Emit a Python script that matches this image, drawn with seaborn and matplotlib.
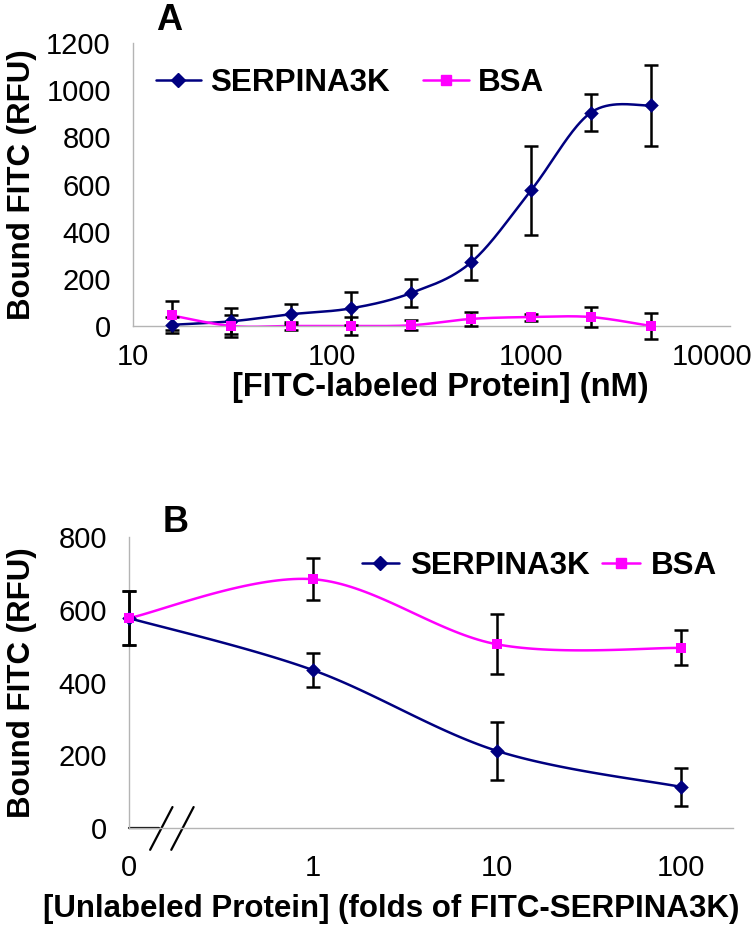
import numpy as np
import matplotlib
matplotlib.use("Agg")
import matplotlib.pyplot as plt
from matplotlib.lines import Line2D
import matplotlib.transforms as mtransforms
import seaborn as sns

# panel A: binding of FITC-labeled protein
conc_nM = [15.625, 31.25, 62.5, 125, 250, 500, 1000, 2000, 4000]
serp_a = [5, 20, 50, 75, 140, 270, 575, 905, 935]
serp_a_err = [35, 55, 42, 70, 58, 75, 190, 80, 170]
bsa_a = [45, 0, 0, 0, 3, 30, 38, 38, 0]
bsa_a_err = [60, 45, 18, 40, 22, 30, 15, 42, 57]
a_xticks = [10, 100, 1000, 10000]
a_yticks = [0, 200, 400, 600, 800, 1000, 1200]

# panel B: competition with unlabeled protein
fold = [0, 1, 10, 100]
serp_b = [577, 434, 212, 113]
serp_b_err = [75, 47, 80, 52]
bsa_b = [577, 684, 505, 495]
bsa_b_err = [75, 58, 82, 48]
b_yticks = [0, 200, 400, 600, 800]

NAVY = "#000080"
MAGENTA = "#ff00ff"
AXGRAY = "#b4b4b4"

sns.set_style("white")
plt.rcParams["font.family"] = ["Liberation Sans", "DejaVu Sans"]
plt.rcParams["text.color"] = "black"
plt.rcParams["axes.labelcolor"] = "black"


def smooth(ax, x, y, n=40):
    # excel-like smoothed line (catmull-rom in screen space)
    pts = ax.transData.transform(np.column_stack([x, y]))
    P = np.vstack([pts[0], pts, pts[-1]])
    t = np.linspace(0, 1, n)[:, None]
    segs = []
    for i in range(1, len(P) - 2):
        p0, p1, p2, p3 = P[i - 1], P[i], P[i + 1], P[i + 2]
        segs.append(0.5 * (2 * p1 + (-p0 + p2) * t
                           + (2 * p0 - 5 * p1 + 4 * p2 - p3) * t ** 2
                           + (-p0 + 3 * p1 - 3 * p2 + p3) * t ** 3))
    out = ax.transData.inverted().transform(np.vstack(segs))
    return out[:, 0], out[:, 1]


def draw_series(ax, x, y, err, color, marker, ms):
    sx, sy = smooth(ax, x, y)
    sns.lineplot(x=sx, y=sy, ax=ax, color=color, lw=1.8, sort=False,
                 estimator=None, zorder=2)
    eb = ax.errorbar(x, y, yerr=err, fmt="none", ecolor="black",
                     elinewidth=1.8, capsize=5, capthick=1.8, zorder=3)
    for art in list(eb[1]) + list(eb[2]):
        art.set_clip_on(False)
    sns.scatterplot(x=x, y=y, ax=ax, marker=marker, s=ms, color=color,
                    edgecolor=color, linewidth=0, zorder=4, clip_on=False)


def style_axes(ax, xpad):
    sns.despine(ax=ax)
    for side in ["left", "bottom"]:
        ax.spines[side].set_color(AXGRAY)
        ax.spines[side].set_linewidth(1.0)
    ax.tick_params(axis="both", which="major", direction="out", length=5,
                   width=1, color=AXGRAY, labelcolor="black", labelsize=21)
    ax.tick_params(axis="y", pad=11)
    ax.tick_params(axis="x", pad=xpad)
    ax.tick_params(axis="both", which="minor", length=0)


def legend_handles():
    return [Line2D([], [], color=NAVY, marker="D", ms=7, lw=1.8),
            Line2D([], [], color=MAGENTA, marker="s", ms=7, lw=1.8)]


fig = plt.figure(figsize=(7.55, 9.34), dpi=100)

# ---- panel A ----
axA = fig.add_axes([133 / 755, 1 - 326 / 934, 597 / 755, 283 / 934])
axA.set_xscale("log")
axA.set_xlim(10, 10000)
axA.set_ylim(0, 1200)
draw_series(axA, conc_nM, serp_a, serp_a_err, NAVY, "D", 55)
draw_series(axA, conc_nM, bsa_a, bsa_a_err, MAGENTA, "s", 55)
axA.set_xticks(a_xticks)
axA.set_xticklabels([str(v) for v in a_xticks])
axA.set_yticks(a_yticks)
axA.set_yticklabels([str(v) for v in a_yticks])
style_axes(axA, 7)
last = axA.get_xticklabels()[-1]
last.set_transform(last.get_transform()
                   + mtransforms.ScaledTranslation(-18 / 100, 0, fig.dpi_scale_trans))
axA.set_xlabel("[FITC-labeled Protein] (nM)", fontsize=23.5, fontweight="bold")
axA.set_ylabel("Bound FITC (RFU)", fontsize=22.5, fontweight="bold")
axA.xaxis.set_label_coords(0.514, -0.218)
axA.yaxis.set_label_coords(-0.186, 0.5)
axA.xaxis.label.set_va("center")
axA.yaxis.label.set_va("center")
axA.legend(legend_handles(), ["SERPINA3K", "BSA"], ncol=2, frameon=False,
           loc="center left", bbox_to_anchor=(0.038, 0.858),
           handlelength=1.45, handletextpad=0.3, columnspacing=1.05,
           borderpad=0, borderaxespad=0,
           prop={"weight": "bold", "size": 22.6})
fig.text(169 / 755, 1 - 20 / 934, "A", fontsize=26, fontweight="bold",
         ha="center", va="center")

# ---- panel B ----
axB = fig.add_axes([129 / 755, 1 - 828 / 934, 604 / 755, 291 / 934])
xpos = [np.log10(f) if f > 0 else -1.0 for f in fold]
axB.set_xlim(-1, 2.283)
axB.set_ylim(0, 800)
draw_series(axB, xpos, serp_b, serp_b_err, NAVY, "D", 55)
draw_series(axB, xpos, bsa_b, bsa_b_err, MAGENTA, "s", 55)
axB.set_xticks(xpos)
axB.set_xticklabels([str(f) for f in fold])
axB.set_yticks(b_yticks)
axB.set_yticklabels([str(v) for v in b_yticks])
style_axes(axB, 14)
axB.xaxis.get_major_ticks()[0].tick1line.set_visible(False)
axB.set_xlabel("[Unlabeled Protein] (folds of FITC-SERPINA3K)",
               fontsize=22.5, fontweight="bold")
axB.set_ylabel("Bound FITC (RFU)", fontsize=22.5, fontweight="bold")
axB.xaxis.set_label_coords(0.434, -0.278)
axB.yaxis.set_label_coords(-0.177, 0.5)
axB.xaxis.label.set_va("center")
axB.yaxis.label.set_va("center")
axB.legend(legend_handles(), ["SERPINA3K", "BSA"], ncol=2, frameon=False,
           loc="center left", bbox_to_anchor=(0.385, 0.9),
           handlelength=1.2, handletextpad=0.35, columnspacing=0.4,
           borderpad=0, borderaxespad=0,
           prop={"weight": "bold", "size": 22.6})
fig.text(176 / 755, 1 - 522 / 934, "B", fontsize=26, fontweight="bold",
         ha="center", va="center")

# axis break marks at the origin of panel B
tr = axB.transAxes
axB.plot([0, 0.05], [0, 0], color="black", lw=1.6, transform=tr, clip_on=False)
for x0 in (0.035, 0.07):
    axB.plot([x0, x0 + 0.037], [-0.075, 0.072], color="black", lw=1.6,
             transform=tr, clip_on=False)

fig.savefig("out.png", dpi=100)
